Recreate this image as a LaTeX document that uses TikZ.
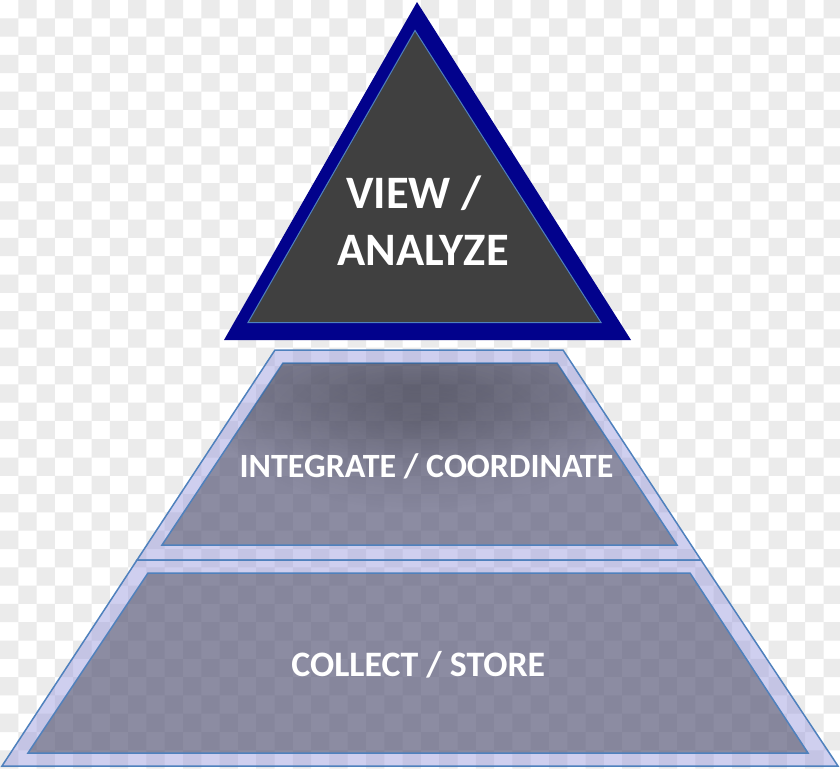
\documentclass[tikz,border=0pt]{standalone}
\usepackage{fontspec}
\setmainfont{Carlito}
\usetikzlibrary{fadings}
\definecolor{checkgray}{RGB}{235,235,235}
\definecolor{navyb}{RGB}{2,2,140}
\definecolor{darkfill}{RGB}{64,64,64}
\definecolor{edgeblue}{RGB}{79,129,189}
\definecolor{bandfill}{RGB}{150,150,220}
\definecolor{innerfill}{RGB}{60,60,70}
\tikzfading[name=softglow, inner color=transparent!0, outer color=transparent!100]
\tikzset{
  band/.style={fill=bandfill, fill opacity=0.45, draw=edgeblue, line width=1.5pt, draw opacity=1},
  core/.style={fill=innerfill, fill opacity=0.45, draw=edgeblue, line width=1.5pt, draw opacity=1},
  lbl/.style={text=white, font=\bfseries, anchor=base, inner sep=0pt},
}
\begin{document}
\begin{tikzpicture}[x=1pt, y=-1pt]
\useasboundingbox (0,0) rectangle (840,768);
% checkerboard background
\begin{scope}
\clip (0,0) rectangle (840,768);
\fill[white] (0,0) rectangle (840,768);
\fill[checkgray] \foreach \j in {0,...,41}{ \foreach \i in {0,...,23}{ ({(2*\i+mod(\j+1,2))*18.3},{\j*18.3}) rectangle +(18.3,18.3) } };
\end{scope}
% top triangle
\fill[navyb] (417,2) -- (631,340) -- (224,340) -- cycle;
\filldraw[fill=darkfill, draw=edgeblue, line width=1pt] (415,30.5) -- (601,322.5) -- (248,322.5) -- cycle;
\node[lbl, font=\bfseries\fontsize{46.5}{50}\selectfont] (view) at (414,208) {VIEW /};
\node[lbl, font=\bfseries\fontsize{46.5}{50}\selectfont] (analyze) at (423,265) {ANALYZE};
% middle trapezoid
\path[band] (275,350) -- (563,350) -- (701,560) -- (137,560) -- cycle;
\path[core] (283,363) -- (557,363) -- (677,545) -- (162,545) -- cycle;
\begin{scope}
\clip (283,363) -- (557,363) -- (677,545) -- (162,545) -- cycle;
\fill[black, opacity=0.2, path fading=softglow] (420,385) ellipse [x radius=360, y radius=80];
\fill[black, opacity=0.16, path fading=softglow] (420,420) ellipse [x radius=200, y radius=90];
\end{scope}
\node[lbl, font=\bfseries\fontsize{34}{38}\selectfont] (integrate) at (426.5,477) {INTEGRATE / COORDINATE};
% bottom trapezoid
\path[band] (137,560) -- (701,560) -- (838,766) -- (2,766) -- cycle;
\path[core] (148,573) -- (690,573) -- (808,753) -- (28,753) -- cycle;
\node[lbl, font=\bfseries\fontsize{35.8}{40}\selectfont] (collect) at (418.3,676.7) {COLLECT / STORE};
\end{tikzpicture}
\end{document}
